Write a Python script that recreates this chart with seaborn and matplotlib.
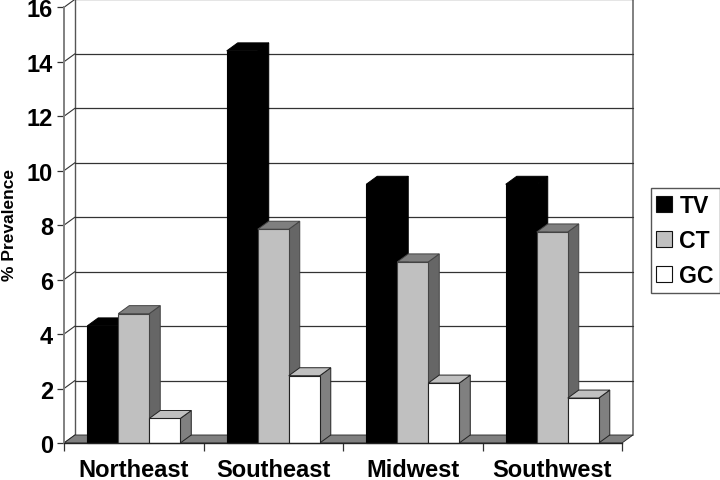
import pandas as pd
import seaborn as sns
import matplotlib.pyplot as plt
from matplotlib.patches import Polygon

regions = ['Northeast', 'Southeast', 'Midwest', 'Southwest']
tv = [4.3, 14.4, 9.5, 9.5]
ct = [4.75, 7.85, 6.65, 7.75]
gc = [0.9, 2.47, 2.2, 1.65]
series = ['TV', 'CT', 'GC']
front_cols = ['#000000', '#c0c0c0', '#ffffff']
top_cols = ['#000000', '#7f7f7f', '#c0c0c0']
side_cols = ['#000000', '#666666', '#808080']
edge_cols = ['#000000', '#444444', '#222222']
yticks = list(range(0, 17, 2))

df = pd.DataFrame({'region': regions * 3,
                   'series': ['TV'] * 4 + ['CT'] * 4 + ['GC'] * 4,
                   'value': tv + ct + gc})

sns.set_style('white')
plt.rcParams['font.family'] = ['Liberation Sans', 'DejaVu Sans']
plt.rcParams['font.weight'] = 'bold'
plt.rcParams['text.color'] = 'black'
plt.rcParams['xtick.labelcolor'] = 'black'
plt.rcParams['ytick.labelcolor'] = 'black'

W, H = 720, 481
fig = plt.figure(figsize=(W / 100, H / 100), dpi=100)
ax = fig.add_axes([64 / W, 1 - 444 / H, 558 / W, 435.7 / H])

sns.barplot(data=df, x='region', y='value', hue='series', hue_order=series, order=regions,
            palette=dict(zip(series, front_cols)), saturation=1, width=0.667, gap=0,
            edgecolor='#111111', linewidth=0.8, ax=ax)
ax.set_xlim(-0.5, 3.5)
ax.set_ylim(0, 16)

# depth of the fake 3d box, in data units
dx = 11 / 139.5
dy = 8 / 27.2
x0, x1 = -0.5, 3.5


def poly(pts, fc, ec='#222222', lw=0.7, z=2):
    ax.add_patch(Polygon(pts, closed=True, fc=fc, ec=ec, lw=lw, zorder=z, clip_on=False))


# floor and walls
poly([(x0, 0), (x1, 0), (x1 + dx, dy), (x0 + dx, dy)], '#808080', lw=0.6, z=1.5)
ax.plot([x0 + dx, x0 + dx], [dy, 16 + dy], color='#555555', lw=1.0, clip_on=False, zorder=1)
ax.plot([x0 + dx, x1 + dx, x1 + dx], [16 + dy, 16 + dy, dy], color='#808080', lw=1.4, clip_on=False, zorder=1)
for t in yticks[1:]:
    ax.plot([x0 + dx, x1 + dx], [t + dy, t + dy], color='#333333', lw=0.9, clip_on=False, zorder=1)
for t in yticks:
    ax.plot([x0, x0 + dx], [t, t + dy], color='#333333', lw=0.8, clip_on=False, zorder=1)

# extrude every bar, left to right so nearer ones overlap
for s, cont in enumerate(ax.containers):
    for c, bar in enumerate(cont):
        z = 3 + (c * 3 + s)
        l, w, h = bar.get_x(), bar.get_width(), bar.get_height()
        r = l + w
        poly([(r, 0), (r + dx, dy), (r + dx, h + dy), (r, h)], side_cols[s], ec=edge_cols[s], z=z)
        poly([(l, h), (r, h), (r + dx, h + dy), (l + dx, h + dy)], top_cols[s], ec=edge_cols[s], z=z)
        bar.set_edgecolor(edge_cols[s])
        bar.set_zorder(z + 0.5)
        bar.set_clip_on(False)

for sp in ['top', 'right']:
    ax.spines[sp].set_visible(False)
ax.spines['left'].set_color('#808080')
ax.spines['left'].set_linewidth(1.4)
ax.spines['bottom'].set_color('#222222')
ax.spines['bottom'].set_linewidth(1.0)
ax.spines['bottom'].set_zorder(30)

ax.set_yticks(yticks)
ax.set_xticks([-0.5, 0.5, 1.5, 2.5, 3.5])
ax.set_xticklabels([])
ax.set_xticks(range(4), regions, minor=True)
ax.tick_params(axis='x', which='major', bottom=True, length=6, width=0.9, color='#333333')
ax.tick_params(axis='x', which='minor', bottom=False, length=0, pad=11, labelsize=17)
ax.tick_params(axis='y', left=True, length=5, width=0.9, color='#333333', pad=3, labelsize=17)
for lab in ax.get_xticklabels(minor=True) + ax.get_yticklabels():
    lab.set_fontweight('bold')
ax.set_xlabel('')
ax.set_ylabel('')
fig.text(10 / W, 1 - 225 / H, '% Prevalence', rotation=90, fontsize=12.5, fontweight='bold',
         ha='center', va='center', color='black')

handles, labels = ax.get_legend_handles_labels()
ax.legend_.remove()
leg = fig.legend(handles, labels, loc='upper left', bbox_to_anchor=(650.5 / W, 1 - 189 / H),
                 borderaxespad=0, frameon=True, fancybox=False, edgecolor='#555555', framealpha=1,
                 prop={'family': 'Liberation Sans', 'weight': 'bold', 'size': 16.6},
                 handlelength=0.7, handleheight=0.7, handletextpad=0.3, labelspacing=0.52,
                 borderpad=0.25)
leg.get_frame().set_linewidth(1.0)

fig.savefig('out.png', dpi=100)
